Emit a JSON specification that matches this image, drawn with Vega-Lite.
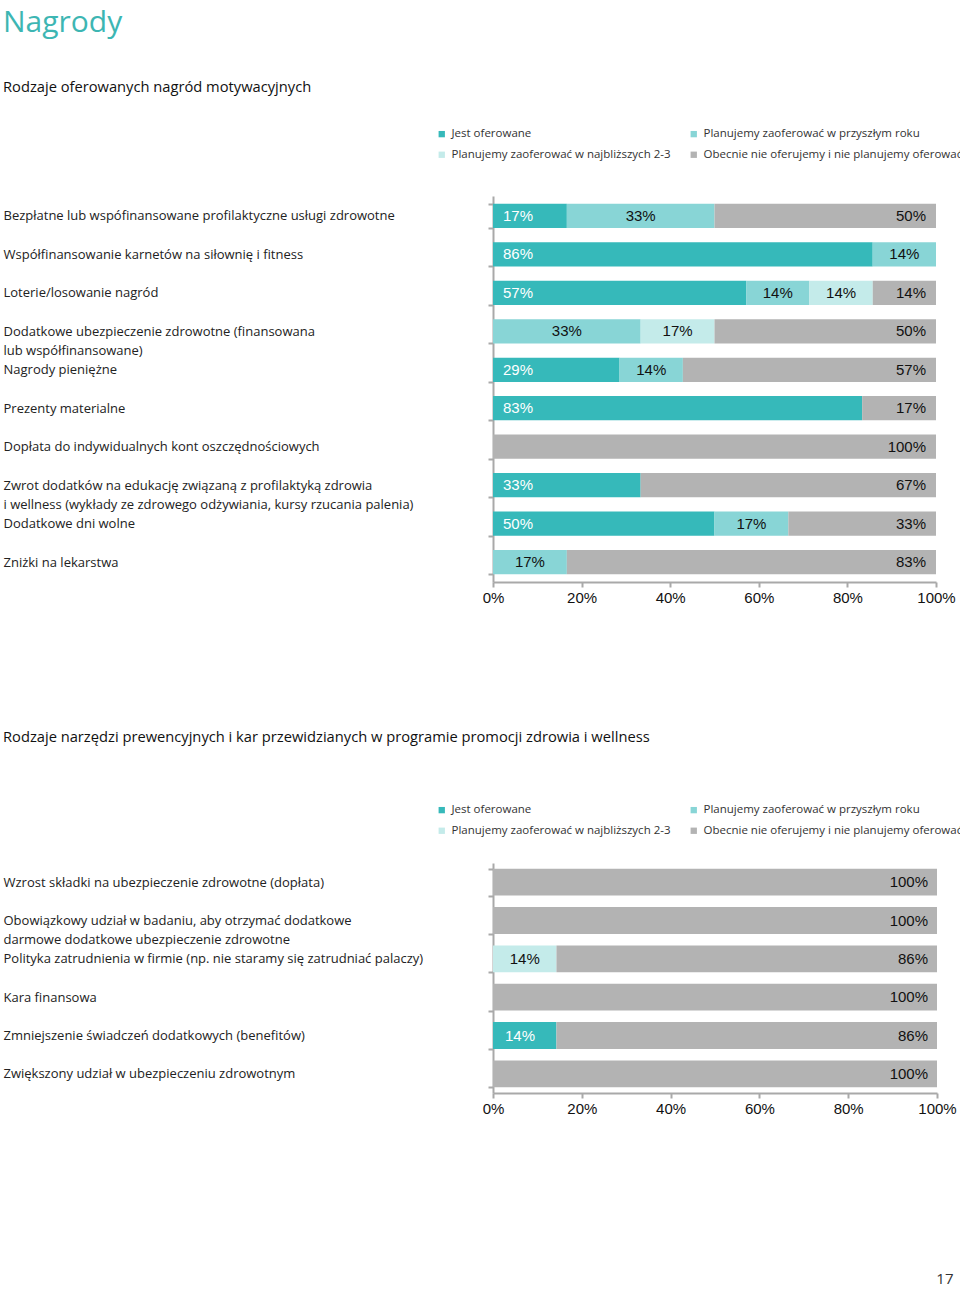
{
  "$schema": "https://vega.github.io/schema/vega-lite/v6.json",
  "padding": {"left": 3, "top": 8, "right": 0, "bottom": 0},
  "background": "white",
  "title": {"text": "Nagrody", "anchor": "start", "font": "Open Sans", "fontSize": 30, "fontWeight": "normal", "color": "#3db6b3", "offset": 42},
  "spacing": 125,
  "resolve": {"scale": {"color": "independent", "x": "independent", "y": "independent"}, "legend": {"color": "independent"}},
  "config": {
    "view": {"stroke": null},
    "axisX": {"grid": false, "labelFlush": false, "labelFont": "Liberation Sans", "labelFontSize": 15, "labelColor": "#111", "domainColor": "#a9a9a9", "domainWidth": 2, "tickColor": "#a9a9a9", "tickWidth": 2, "tickSize": 5, "labelPadding": 3},
    "axisY": {"domainColor": "#a9a9a9", "domainWidth": 2, "tickColor": "#a9a9a9", "tickWidth": 2, "tickSize": 5, "tickBand": "extent", "labelAlign": "left", "labelBaseline": "middle", "labelFont": "Open Sans", "labelFontSize": 13, "labelColor": "#222", "labelLimit": 600, "labelLineHeight": 19},
    "legend": {"orient": "none", "direction": "horizontal", "columns": 2, "symbolType": "square", "symbolSize": 40, "symbolStrokeWidth": 0, "labelFont": "Open Sans", "labelFontSize": 11.5, "labelColor": "#333", "rowPadding": 8, "columnPadding": 17, "labelOffset": 4, "labelLimit": 262},
    "title": {"anchor": "start", "frame": "bounds", "font": "Open Sans", "fontSize": 14.7, "fontWeight": "normal", "color": "#111"}
  },
  "vconcat": [
    {
      "title": {"text": "Rodzaje oferowanych nagród motywacyjnych", "offset": 33},
      "width": 443,
      "height": 386,
      "data": {"values": [
        {"item": "Bezpłatne lub wspófinansowane profilaktyczne usługi zdrowotne", "s": "Jest oferowane", "v": 0.1667},
        {"item": "Bezpłatne lub wspófinansowane profilaktyczne usługi zdrowotne", "s": "Planujemy zaoferować w przyszłym roku", "v": 0.3333},
        {"item": "Bezpłatne lub wspófinansowane profilaktyczne usługi zdrowotne", "s": "Obecnie nie oferujemy i nie planujemy oferować", "v": 0.5},
        {"item": "Współfinansowanie karnetów na siłownię i fitness", "s": "Jest oferowane", "v": 0.8571},
        {"item": "Współfinansowanie karnetów na siłownię i fitness", "s": "Planujemy zaoferować w przyszłym roku", "v": 0.1429},
        {"item": "Loterie/losowanie nagród", "s": "Jest oferowane", "v": 0.5714},
        {"item": "Loterie/losowanie nagród", "s": "Planujemy zaoferować w przyszłym roku", "v": 0.1429},
        {"item": "Loterie/losowanie nagród", "s": "Planujemy zaoferować w najbliższych 2-3", "v": 0.1429},
        {"item": "Loterie/losowanie nagród", "s": "Obecnie nie oferujemy i nie planujemy oferować", "v": 0.1428},
        {"item": "Dodatkowe ubezpieczenie zdrowotne (finansowana|lub współfinansowane)", "s": "Planujemy zaoferować w przyszłym roku", "v": 0.3333},
        {"item": "Dodatkowe ubezpieczenie zdrowotne (finansowana|lub współfinansowane)", "s": "Planujemy zaoferować w najbliższych 2-3", "v": 0.1667},
        {"item": "Dodatkowe ubezpieczenie zdrowotne (finansowana|lub współfinansowane)", "s": "Obecnie nie oferujemy i nie planujemy oferować", "v": 0.5},
        {"item": "Nagrody pieniężne", "s": "Jest oferowane", "v": 0.2857},
        {"item": "Nagrody pieniężne", "s": "Planujemy zaoferować w przyszłym roku", "v": 0.1429},
        {"item": "Nagrody pieniężne", "s": "Obecnie nie oferujemy i nie planujemy oferować", "v": 0.5714},
        {"item": "Prezenty materialne", "s": "Jest oferowane", "v": 0.8333},
        {"item": "Prezenty materialne", "s": "Obecnie nie oferujemy i nie planujemy oferować", "v": 0.1667},
        {"item": "Dopłata do indywidualnych kont oszczędnościowych", "s": "Obecnie nie oferujemy i nie planujemy oferować", "v": 1},
        {"item": "Zwrot dodatków na edukację związaną z profilaktyką zdrowia|i wellness (wykłady ze zdrowego odżywiania, kursy rzucania palenia)", "s": "Jest oferowane", "v": 0.3333},
        {"item": "Zwrot dodatków na edukację związaną z profilaktyką zdrowia|i wellness (wykłady ze zdrowego odżywiania, kursy rzucania palenia)", "s": "Obecnie nie oferujemy i nie planujemy oferować", "v": 0.6667},
        {"item": "Dodatkowe dni wolne", "s": "Jest oferowane", "v": 0.5},
        {"item": "Dodatkowe dni wolne", "s": "Planujemy zaoferować w przyszłym roku", "v": 0.1667},
        {"item": "Dodatkowe dni wolne", "s": "Obecnie nie oferujemy i nie planujemy oferować", "v": 0.3333},
        {"item": "Zniżki na lekarstwa", "s": "Planujemy zaoferować w przyszłym roku", "v": 0.1667},
        {"item": "Zniżki na lekarstwa", "s": "Obecnie nie oferujemy i nie planujemy oferować", "v": 0.8333}
      ]},
      "transform": [
        {"stack": "v", "groupby": ["item"], "as": ["v0", "v1"]},
        {"calculate": "(datum.v0 + datum.v1) / 2", "as": "mid"}
      ],
      "encoding": {
        "y": {"field": "item", "type": "nominal",
          "sort": ["Bezpłatne lub wspófinansowane profilaktyczne usługi zdrowotne", "Współfinansowanie karnetów na siłownię i fitness", "Loterie/losowanie nagród", "Dodatkowe ubezpieczenie zdrowotne (finansowana|lub współfinansowane)", "Nagrody pieniężne", "Prezenty materialne", "Dopłata do indywidualnych kont oszczędnościowych", "Zwrot dodatków na edukację związaną z profilaktyką zdrowia|i wellness (wykłady ze zdrowego odżywiania, kursy rzucania palenia)", "Dodatkowe dni wolne", "Zniżki na lekarstwa"],
          "scale": {"paddingInner": 0.37, "paddingOuter": 0.2},
          "axis": {"title": null, "labelPadding": 485, "labelExpr": "datum.value ? split(datum.value, '|') : ''"}}
      },
      "layer": [
        {
          "mark": {"type": "bar"},
          "encoding": {
            "x": {"field": "v0", "type": "quantitative", "scale": {"domain": [0, 1], "nice": false}, "axis": {"title": null, "format": ".0%", "values": [0, 0.2, 0.4, 0.6, 0.8, 1]}},
            "x2": {"field": "v1"},
            "color": {"field": "s", "type": "nominal",
              "scale": {"domain": ["Jest oferowane", "Planujemy zaoferować w przyszłym roku", "Planujemy zaoferować w najbliższych 2-3", "Obecnie nie oferujemy i nie planujemy oferować"], "range": ["#36b9ba", "#88d5d6", "#c4ebea", "#b3b3b3"]},
              "legend": {"title": null, "legendX": -57, "legendY": -68}}
          }
        },
        {
          "transform": [{"filter": "datum.s === 'Jest oferowane'"}],
          "mark": {"type": "text", "font": "Liberation Sans", "fontSize": 15, "align": "left", "baseline": "middle", "dx": 10, "color": "#ffffff"},
          "encoding": {"x": {"field": "v0", "type": "quantitative"}, "text": {"field": "v", "type": "quantitative", "format": ".0%"}}
        },
        {
          "transform": [{"filter": "datum.s === 'Planujemy zaoferować w przyszłym roku' || datum.s === 'Planujemy zaoferować w najbliższych 2-3'"}],
          "mark": {"type": "text", "font": "Liberation Sans", "fontSize": 15, "align": "center", "baseline": "middle", "color": "#111111"},
          "encoding": {"x": {"field": "mid", "type": "quantitative"}, "text": {"field": "v", "type": "quantitative", "format": ".0%"}}
        },
        {
          "transform": [{"filter": "datum.s === 'Obecnie nie oferujemy i nie planujemy oferować'"}],
          "mark": {"type": "text", "font": "Liberation Sans", "fontSize": 15, "align": "right", "baseline": "middle", "dx": -10, "color": "#111111"},
          "encoding": {"x": {"field": "v1", "type": "quantitative"}, "text": {"field": "v", "type": "quantitative", "format": ".0%"}}
        }
      ]
    },
    {
      "title": {"text": "Rodzaje narzędzi prewencyjnych i kar przewidzianych w programie promocji zdrowia i wellness", "offset": 59},
      "width": 444,
      "height": 230,
      "data": {"values": [
        {"item": "Wzrost składki na ubezpieczenie zdrowotne (dopłata)", "s": "Obecnie nie oferujemy i nie planujemy oferować", "v": 1},
        {"item": "Obowiązkowy udział w badaniu, aby otrzymać dodatkowe|darmowe dodatkowe ubezpieczenie zdrowotne", "s": "Obecnie nie oferujemy i nie planujemy oferować", "v": 1},
        {"item": "Polityka zatrudnienia w firmie (np. nie staramy się zatrudniać palaczy)", "s": "Planujemy zaoferować w najbliższych 2-3", "v": 0.1429},
        {"item": "Polityka zatrudnienia w firmie (np. nie staramy się zatrudniać palaczy)", "s": "Obecnie nie oferujemy i nie planujemy oferować", "v": 0.8571},
        {"item": "Kara finansowa", "s": "Obecnie nie oferujemy i nie planujemy oferować", "v": 1},
        {"item": "Zmniejszenie świadczeń dodatkowych (benefitów)", "s": "Jest oferowane", "v": 0.1429},
        {"item": "Zmniejszenie świadczeń dodatkowych (benefitów)", "s": "Obecnie nie oferujemy i nie planujemy oferować", "v": 0.8571},
        {"item": "Zwiększony udział w ubezpieczeniu zdrowotnym", "s": "Obecnie nie oferujemy i nie planujemy oferować", "v": 1}
      ]},
      "transform": [
        {"stack": "v", "groupby": ["item"], "as": ["v0", "v1"]},
        {"calculate": "(datum.v0 + datum.v1) / 2", "as": "mid"}
      ],
      "encoding": {
        "y": {"field": "item", "type": "nominal",
          "sort": ["Wzrost składki na ubezpieczenie zdrowotne (dopłata)", "Obowiązkowy udział w badaniu, aby otrzymać dodatkowe|darmowe dodatkowe ubezpieczenie zdrowotne", "Polityka zatrudnienia w firmie (np. nie staramy się zatrudniać palaczy)", "Kara finansowa", "Zmniejszenie świadczeń dodatkowych (benefitów)", "Zwiększony udział w ubezpieczeniu zdrowotnym"],
          "scale": {"paddingInner": 0.3, "paddingOuter": 0.15},
          "axis": {"title": null, "labelPadding": 485, "labelExpr": "datum.value ? split(datum.value, '|') : ''"}}
      },
      "layer": [
        {
          "mark": {"type": "bar"},
          "encoding": {
            "x": {"field": "v0", "type": "quantitative", "scale": {"domain": [0, 1], "nice": false},
              "axis": {"format": ".0%", "values": [0, 0.2, 0.4, 0.6, 0.8, 1], "title": "17", "titleX": 460, "titleY": 193, "titleAlign": "right", "titleBaseline": "bottom", "titleAngle": 0, "titleFont": "Open Sans", "titleFontSize": 15, "titleFontWeight": "normal", "titleColor": "#333"}},
            "x2": {"field": "v1"},
            "color": {"field": "s", "type": "nominal",
              "scale": {"domain": ["Jest oferowane", "Planujemy zaoferować w przyszłym roku", "Planujemy zaoferować w najbliższych 2-3", "Obecnie nie oferujemy i nie planujemy oferować"], "range": ["#36b9ba", "#88d5d6", "#c4ebea", "#b3b3b3"]},
              "legend": {"title": null, "legendX": -57, "legendY": -59}}
          }
        },
        {
          "transform": [{"filter": "datum.s === 'Jest oferowane'"}],
          "mark": {"type": "text", "font": "Liberation Sans", "fontSize": 15, "align": "left", "baseline": "middle", "dx": 12, "color": "#ffffff"},
          "encoding": {"x": {"field": "v0", "type": "quantitative"}, "text": {"field": "v", "type": "quantitative", "format": ".0%"}}
        },
        {
          "transform": [{"filter": "datum.s === 'Planujemy zaoferować w przyszłym roku' || datum.s === 'Planujemy zaoferować w najbliższych 2-3'"}],
          "mark": {"type": "text", "font": "Liberation Sans", "fontSize": 15, "align": "center", "baseline": "middle", "color": "#111111"},
          "encoding": {"x": {"field": "mid", "type": "quantitative"}, "text": {"field": "v", "type": "quantitative", "format": ".0%"}}
        },
        {
          "transform": [{"filter": "datum.s === 'Obecnie nie oferujemy i nie planujemy oferować'"}],
          "mark": {"type": "text", "font": "Liberation Sans", "fontSize": 15, "align": "right", "baseline": "middle", "dx": -9, "color": "#111111"},
          "encoding": {"x": {"field": "v1", "type": "quantitative"}, "text": {"field": "v", "type": "quantitative", "format": ".0%"}}
        }
      ]
    }
  ]
}
